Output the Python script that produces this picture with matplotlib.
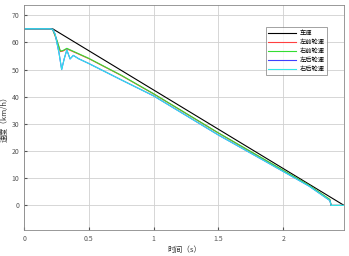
import matplotlib
matplotlib.use("Agg")
import numpy as np
import matplotlib.pyplot as plt

plt.rcParams['font.family'] = ['Noto Sans CJK SC', 'DejaVu Sans']

# vehicle speed
t_car = [0, 0.22, 2.47]
v_car = [65, 65, 0]

# front wheels
t_front = [0, 0.20, 0.22, 0.25, 0.28, 0.30, 0.33, 0.50, 0.75, 1.00, 1.50,
           1.90, 2.20, 2.36, 2.37, 2.47]
v_lf = [65, 65, 64.8, 61.0, 56.6, 56.8, 57.6, 54.0, 47.8, 41.0, 26.6,
        15.6, 7.3, 2.1, 0.0, 0.0]
v_rf = [65, 65, 64.8, 61.3, 56.8, 57.0, 57.8, 54.1, 47.9, 41.1, 26.7,
        15.7, 7.4, 2.2, 0.0, 0.0]

# rear wheels
t_rear = [0, 0.20, 0.22, 0.24, 0.27, 0.29, 0.31, 0.33, 0.355, 0.38, 0.42,
          0.50, 0.75, 1.00, 1.50, 1.90, 2.20, 2.36, 2.37, 2.47]
v_lr = [65, 65, 64.8, 63.0, 56.0, 50.0, 54.0, 57.2, 53.9, 55.2, 54.0,
        52.2, 46.2, 40.3, 25.9, 15.2, 7.1, 1.8, 0.0, 0.0]
v_rr = [65, 65, 64.8, 63.0, 56.0, 50.0, 54.0, 57.2, 53.9, 55.2, 54.0,
        52.2, 46.2, 40.3, 25.9, 15.2, 7.1, 1.8, 0.0, 0.0]

names = ['车速', '左前轮速', '右前轮速', '左后轮速', '右后轮速']

fig = plt.figure(figsize=(3.49, 2.56), dpi=100)
ax = fig.add_axes([0.069, 0.102, 0.917, 0.878])

ax.plot(t_car, v_car, color='black', lw=0.8, label=names[0])
ax.plot(t_front, v_lf, color='#ff4040', lw=0.8, label=names[1])
ax.plot(t_front, v_rf, color='#33dd33', lw=0.8, label=names[2])
ax.plot(t_rear, v_lr, color='#4040ff', lw=0.8, label=names[3])
ax.plot(t_rear, v_rr, color='#33e6e6', lw=0.8, label=names[4])

ax.set_xlim(0, 2.47)
ax.set_ylim(-9, 73.7)
ax.set_xticks([0, 0.5, 1, 1.5, 2])
ax.set_xticklabels(['0', '0.5', '1', '1.5', '2'])
ax.set_yticks(np.arange(0, 80, 10))
ax.grid(True, color='#d0d0d0', lw=0.6)
ax.tick_params(direction='in', length=2, labelsize=5, colors='#555555')
for s in ax.spines.values():
    s.set_color('#888888')
    s.set_linewidth(0.6)

ax.set_xlabel('时间（s）', fontsize=5.5, color='#333333', labelpad=2)
ax.set_ylabel('速度（km/h）', fontsize=5.5, color='#333333', labelpad=2)

leg = ax.legend(loc='upper right', bbox_to_anchor=(0.956, 0.916), fontsize=4.5,
                frameon=True, fancybox=False, edgecolor='#777777',
                handlelength=4.5, handletextpad=0.6, labelspacing=0.15,
                borderpad=0.3)
leg.get_frame().set_linewidth(0.6)

fig.savefig('out.png', dpi=100)
